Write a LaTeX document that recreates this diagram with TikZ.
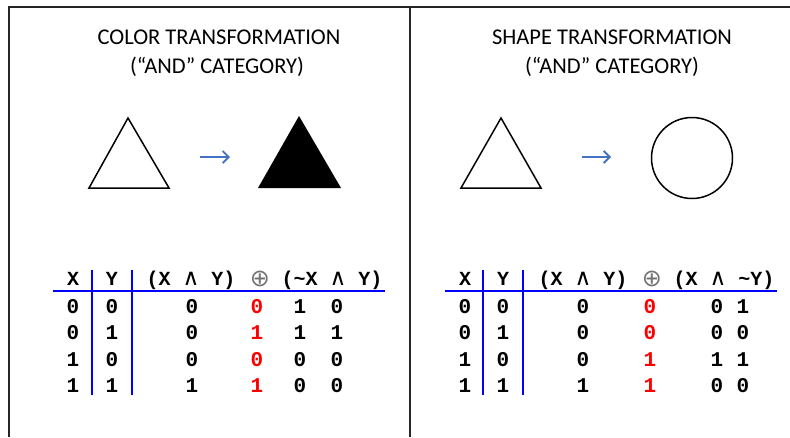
\documentclass[tikz,border=0pt]{standalone}
\usepackage{fontspec}
\setmainfont{Carlito}
\newfontfamily\tabfont{Liberation Mono}
\newfontfamily\symfont{DejaVu Sans}
\usetikzlibrary{arrows.meta}
\definecolor{arrowblue}{RGB}{68,114,196}
\newcommand{\andsign}{{\fontsize{23}{24}\selectfont\symfont\mdseries ∧}}
\tikzset{
  frame/.style={draw=black!85,line width=2.2pt},
  rule/.style={draw=blue,line width=2pt},
  title/.style={font=\fontsize{22.5}{26}\selectfont,anchor=base,inner sep=0pt},
  cell/.style={font=\fontsize{21}{24}\selectfont\tabfont\bfseries,anchor=base,inner sep=0pt},
  headcell/.style={cell,font=\fontsize{20}{24}\selectfont\tabfont\bfseries},
  hot/.style={cell,text=red},
  xorsign/.style={font=\fontsize{24}{26}\selectfont\symfont,text=black!55,inner sep=0pt},
  outline/.style={draw,line width=1.5pt},
  goesto/.style={draw=arrowblue,line width=1.8pt,-{Straight Barb[length=6pt,width=12pt]}}
}

\begin{document}
\begin{tikzpicture}[x=1pt,y=-1pt]
    \useasboundingbox (0,0) rectangle (790,437);
    %
    % -- Frame: top edge, left edge and the middle divider
    \coordinate (tl) at (9,7);
    \coordinate (tr) at (790,7);
    \coordinate (bl) at (9,437);
    \coordinate (mt) at (410,7);
    \coordinate (mb) at (410,437);
    \draw[frame] (bl) -- (tl) -- (tr);
    \draw[frame] (mt) -- (mb);

    % -- Titles
    \node[title] (ctitle1) at (219,44) {COLOR TRANSFORMATION};
    \node[title] (ctitle2) at (217,73) {(“AND” CATEGORY)};
    \node[title] (stitle1) at (612,44) {SHAPE TRANSFORMATION};
    \node[title] (stitle2) at (612,73) {(“AND” CATEGORY)};

    % -- Color transformation: open triangle -> filled triangle
    \coordinate (ctop) at (128,118);
    \coordinate (cleft) at (89,188);
    \coordinate (cright) at (169,188);
    \draw[outline] (ctop) -- (cleft) -- (cright) -- cycle;
    \coordinate (ftop) at (299,116);
    \coordinate (fleft) at (258,188);
    \coordinate (fright) at (341,188);
    \fill (ftop) -- (fleft) -- (fright) -- cycle;
    \coordinate (carrow1) at (200,157);
    \coordinate (carrow2) at (230,157);
    \draw[goesto] (carrow1) -- (carrow2);

    % -- Shape transformation: triangle -> circle
    \coordinate (stop) at (501,118);
    \coordinate (sleft) at (461,188);
    \coordinate (sright) at (541,188);
    \draw[outline] (stop) -- (sleft) -- (sright) -- cycle;
    \node[outline,circle,minimum size=81pt,inner sep=0pt] (circ) at (692,158) {};
    \coordinate (sarrow1) at (582,157);
    \coordinate (sarrow2) at (611,157);
    \draw[goesto] (sarrow1) -- (sarrow2);

    % -- Left truth table
    \node[headcell] (lhx) at (73,285) {X};
    \node[headcell] (lhy) at (112,285) {Y};
    \node[headcell] (lhand) at (191,285) {(X \andsign{} Y)};
    \node[xorsign] (lhxor) at (260,279) {⊕};
    \node[headcell] (lhnot) at (332,285) {(\textasciitilde X \andsign{} Y)};
    \foreach \a/\b/\c/\d/\e/\f [count=\i from 0] in
        {0/0/0/0/1/0, 0/1/0/1/1/1, 1/0/0/0/0/0, 1/1/1/1/0/0}{
      \node[cell] (lx\i) at (73,313+26.6*\i) {\a};
      \node[cell] (ly\i) at (112,313+26.6*\i) {\b};
      \node[cell] (land\i) at (192,313+26.6*\i) {\c};
      \node[hot]  (lxor\i) at (257,313+26.6*\i) {\d};
      \node[cell] (lnx\i) at (300,313+26.6*\i) {\e};
      \node[cell] (lny\i) at (337,313+26.6*\i) {\f};
    }
    \coordinate (lhl) at (53,291);
    \coordinate (lhr) at (385,291);
    \coordinate (lv1t) at (92,270);
    \coordinate (lv1b) at (92,395);
    \coordinate (lv2t) at (132,270);
    \coordinate (lv2b) at (132,395);
    \draw[rule] (lhl) -- (lhr);
    \draw[rule] (lv1t) -- (lv1b);
    \draw[rule] (lv2t) -- (lv2b);

    % -- Right truth table
    \node[headcell] (rhx) at (465,285) {X};
    \node[headcell] (rhy) at (503,285) {Y};
    \node[headcell] (rhand) at (583,285) {(X \andsign{} Y)};
    \node[xorsign] (rhxor) at (652,279) {⊕};
    \node[headcell] (rhnot) at (724,285) {(X \andsign{} \textasciitilde Y)};
    \foreach \a/\b/\c/\d/\e/\f [count=\i from 0] in
        {0/0/0/0/0/1, 0/1/0/0/0/0, 1/0/0/1/1/1, 1/1/1/1/0/0}{
      \node[cell] (rx\i) at (465,313+26.6*\i) {\a};
      \node[cell] (ry\i) at (503,313+26.6*\i) {\b};
      \node[cell] (rand\i) at (583,313+26.6*\i) {\c};
      \node[hot]  (rxor\i) at (650,313+26.6*\i) {\d};
      \node[cell] (rnx\i) at (717,313+26.6*\i) {\e};
      \node[cell] (rny\i) at (743,313+26.6*\i) {\f};
    }
    \coordinate (rhl) at (445,291);
    \coordinate (rhr) at (777,291);
    \coordinate (rv1t) at (483,270);
    \coordinate (rv1b) at (483,395);
    \coordinate (rv2t) at (523,270);
    \coordinate (rv2b) at (523,395);
    \draw[rule] (rhl) -- (rhr);
    \draw[rule] (rv1t) -- (rv1b);
    \draw[rule] (rv2t) -- (rv2b);
\end{tikzpicture}
\end{document}
